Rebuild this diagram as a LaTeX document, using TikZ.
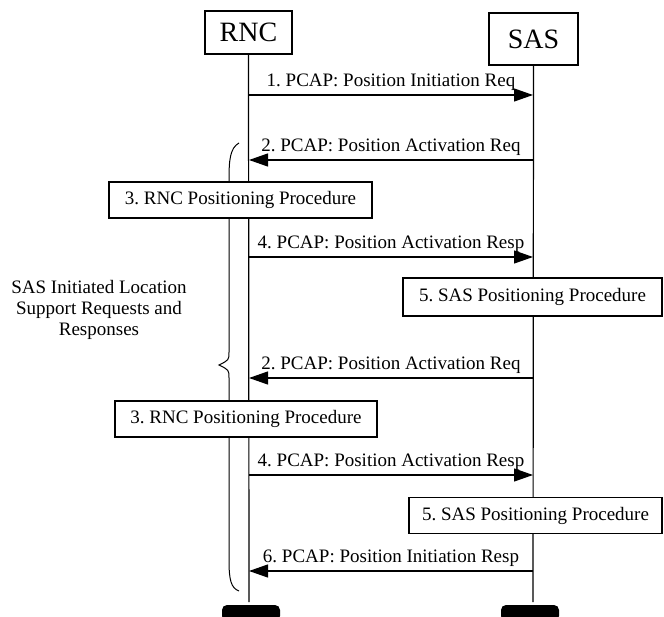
\documentclass[tikz,border=0pt]{standalone}
\usepackage{fontspec}
\setmainfont{Liberation Serif}
\usetikzlibrary{arrows.meta}

\begin{document}
\frenchspacing
\begin{tikzpicture}[x=1pt, y=-1pt,
        head/.style={draw, line width=1.2pt, inner sep=0pt, font=\fontsize{28}{32}\selectfont},
        proc/.style={draw, line width=1.2pt, fill=white, inner sep=0pt, minimum height=36pt, font=\fontsize{19}{22}\selectfont},
        endbar/.style={fill, rounded corners=5pt, inner sep=0pt, minimum width=58pt, minimum height=16pt},
        msg/.style={line width=1.2pt, -{Triangle[length=19pt, width=13pt]}},
        lbl/.style={midway, above=1pt, font=\fontsize{19}{22}\selectfont}]
    \useasboundingbox (0,0) rectangle (664,617);
    % the two parties
    \node[head, minimum width=87pt, minimum height=43pt] (rnc) at (248.5,32.5) {RNC};
    \node[head, minimum width=89pt, minimum height=52pt] (sas) at (533.5,39) {SAS};
    \node[endbar] (rncend) at (251,613) {};
    \node[endbar] (sasend) at (530,613) {};
    \coordinate (rncbot) at (249,602);
    \coordinate (sasbot) at (533,602);
    \draw[line width=1.2pt] (rnc.south) -- (rncbot);
    \draw[line width=1.2pt] (sas.south) -- (sasbot);
    % message end points on the lifelines
    \foreach \n/\y in {1/95, 2/160, 4/257, 2b/378, 4b/475, 6/571} {
        \coordinate (r\n) at (249,\y);
        \coordinate (s\n) at (533,\y);
    }
    % brace and its text
    \draw[line width=1pt] (239,143) .. controls (230,148) and (229,160) .. (229,180)
        -- (229,352) .. controls (229,360) .. (219,365)
        .. controls (229,370) .. (229,378) -- (229,560)
        .. controls (229,580) and (231,588) .. (239,591);
    \node[align=center, font=\fontsize{19}{21}\selectfont] (brace) at (99,310)
        {SAS Initiated Location\\Support Requests and\\Responses};
    % messages
    \draw[msg] (r1) -- node[lbl] {1. PCAP: Position Initiation Req} (s1);
    \draw[msg] (s2) -- node[lbl] {2. PCAP: Position Activation Req} (r2);
    \draw[msg] (r4) -- node[lbl] {4. PCAP: Position Activation Resp} (s4);
    \draw[msg] (s2b) -- node[lbl] {2. PCAP: Position Activation Req} (r2b);
    \draw[msg] (r4b) -- node[lbl] {4. PCAP: Position Activation Resp} (s4b);
    \draw[msg] (s6) -- node[lbl] {6. PCAP: Position Initiation Resp} (r6);
    % procedures
    \node[proc, minimum width=263pt] (rncproc) at (240.5,200) {3. RNC Positioning Procedure};
    \node[proc, minimum width=259pt, minimum height=38pt] (sasproc) at (532.5,297) {5. SAS Positioning Procedure};
    \node[proc, minimum width=262pt] (rncprocb) at (246,419) {3. RNC Positioning Procedure};
    \node[proc, minimum width=253pt] (sasprocb) at (535.5,515.5) {5. SAS Positioning Procedure};
\end{tikzpicture}
\end{document}
